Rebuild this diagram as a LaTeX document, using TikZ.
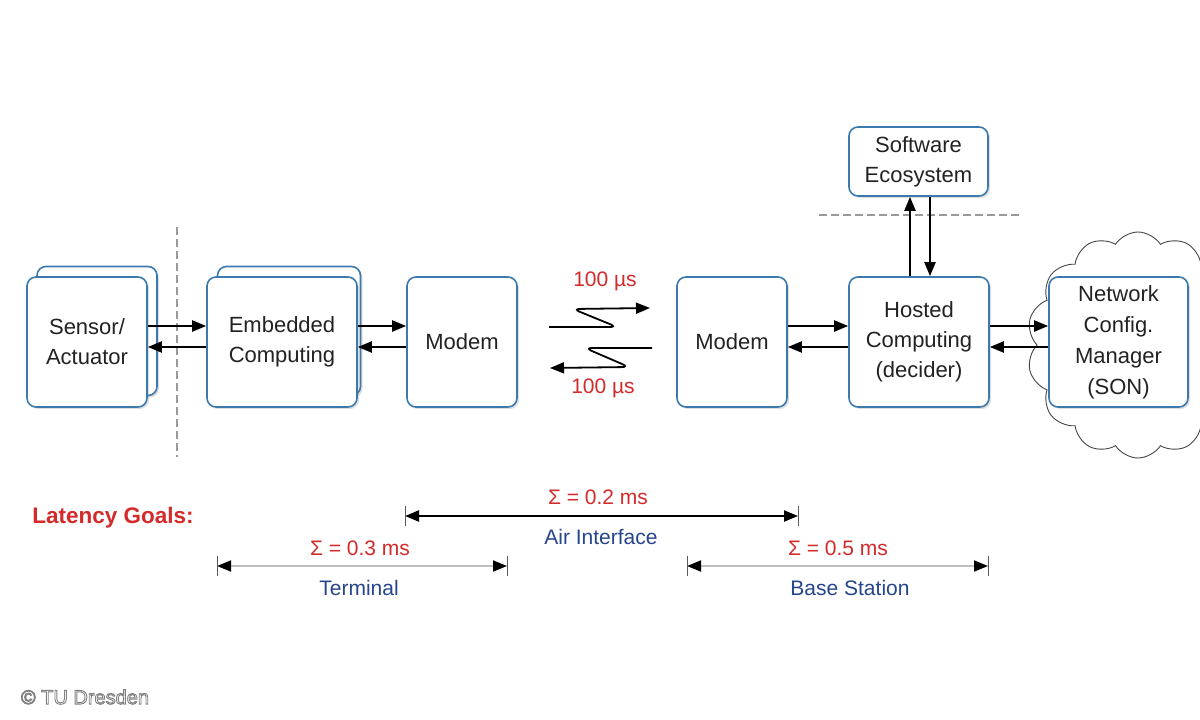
\documentclass[tikz,border=0pt]{standalone}
\usepackage{fontspec}
\setmainfont{Liberation Sans}
\usetikzlibrary{arrows.meta,shapes.symbols,shadows}
\definecolor{boxblue}{HTML}{3C7AAE}
\definecolor{txt}{HTML}{222222}
\definecolor{lred}{HTML}{D42A2A}
\definecolor{lblue}{HTML}{26458C}
\begin{document}
\begin{tikzpicture}[x=1pt,y=-1pt,
  box/.style={draw=boxblue, line width=1.6pt, fill=white, rounded corners=9pt, align=center, text=txt,
    font=\fontsize{22}{30}\selectfont, inner sep=0pt,
    drop shadow={shadow xshift=2pt,shadow yshift=-2pt,opacity=0.25,fill=gray}},
  arr/.style={-{Triangle[length=14pt,width=11pt]}, line width=2pt, black},
  sep/.style={draw=gray!60!black, line width=2.4pt, dash pattern=on 8pt off 4pt},
  dimblack/.style={{Triangle[length=14pt,width=11pt]}-{Triangle[length=14pt,width=11pt]}, line width=2.2pt, black},
  dimgray/.style={{Triangle[length=14pt,width=11pt,color=black]}-{Triangle[length=14pt,width=11pt,color=black]}, line width=1.8pt, gray!50},
  tickline/.style={line width=1pt, gray!70!black},
  redlbl/.style={text=lred, font=\fontsize{21}{25}\selectfont},
  bluelbl/.style={text=lblue, font=\fontsize{21}{25}\selectfont},
]
\useasboundingbox[fill=white] (0,0) rectangle (1200,720);

% separators
\coordinate (v1) at (177,227); \coordinate (v2) at (177,457);
\draw[sep, draw=gray!80] (v1) -- (v2);
\coordinate (h1) at (819,215); \coordinate (h2) at (1019,215);
\draw[sep, draw=gray!80] (h1) -- (h2);

% cloud
\node[cloud, cloud puffs=14, cloud puff arc=115, aspect=0.9, draw=gray!55!black, line width=0.9pt,
      minimum width=222pt, minimum height=226pt, fill=white] (cloud) at (1138,345) {};

% boxes
\node[box, minimum width=120pt, minimum height=129pt] (sensback) at (97,331) {};
\node[box, minimum width=120pt, minimum height=130pt] (sens) at (87,342) {Sensor/\\Actuator};
\node[box, minimum width=143pt, minimum height=129pt] (embback) at (289,331) {};
\node[box, minimum width=150pt, minimum height=130pt] (emb) at (282,342) {Embedded\\Computing};
\node[box, minimum width=110pt, minimum height=130pt] (mod1) at (462,342) {Modem};
\node[box, minimum width=110pt, minimum height=130pt] (mod2) at (732,342) {Modem};
\node[box, minimum width=140pt, minimum height=130pt] (host) at (919,342) {Hosted\\Computing\\(decider)};
\node[box, minimum width=139pt, minimum height=69pt] (soft) at (918.5,161.5) {Software\\Ecosystem};
\node[box, minimum width=139pt, minimum height=130pt, font=\fontsize{22}{31}\selectfont] (net) at (1118.5,342) {Network\\Config.\\Manager\\(SON)};

% horizontal connectors
\draw[arr] ([yshift=16pt]sens.east) -- ([yshift=16pt]emb.west);
\draw[arr] ([yshift=-5pt]emb.west) -- ([yshift=-5pt]sens.east);
\draw[arr] ([yshift=16pt]emb.east) -- ([yshift=16pt]mod1.west);
\draw[arr] ([yshift=-5pt]mod1.west) -- ([yshift=-5pt]emb.east);
\draw[arr] ([yshift=16pt]mod2.east) -- ([yshift=16pt]host.west);
\draw[arr] ([yshift=-5pt]host.west) -- ([yshift=-5pt]mod2.east);
\draw[arr] ([yshift=16pt]host.east) -- ([yshift=16pt]net.west);
\draw[arr] ([yshift=-5pt]net.west) -- ([yshift=-5pt]host.east);
% vertical connectors
\draw[arr] ([xshift=-9pt]host.north) -- ([xshift=-8.5pt]soft.south);
\draw[arr] ([xshift=11.5pt]soft.south) -- ([xshift=11pt]host.north);

% wireless links
\coordinate (w1a) at (549,327); \coordinate (w1b) at (617,327);
\coordinate (w1c) at (573,309); \coordinate (w1d) at (650,308);
\draw[arr, line width=1.8pt, rounded corners=7pt] (w1a) -- (w1b) -- (w1c) -- (w1d);
\coordinate (w2a) at (652,348); \coordinate (w2b) at (585,348);
\coordinate (w2c) at (629,367); \coordinate (w2d) at (550,368);
\draw[arr, line width=1.8pt, rounded corners=7pt] (w2a) -- (w2b) -- (w2c) -- (w2d);
\node[redlbl] (us1) at (605,281) {100 µs};
\node[redlbl] (us2) at (603,388) {100 µs};

% latency goals
\node[text=lred, font=\bfseries\fontsize{22.5}{26}\selectfont] (goals) at (113,518) {Latency Goals:};

\coordinate (a1) at (405,516); \coordinate (a2) at (798,516);
\draw[dimblack] (a1) -- (a2);
\draw[tickline] ([yshift=10pt]a1) -- ([yshift=-10pt]a1);
\draw[tickline] ([yshift=10pt]a2) -- ([yshift=-10pt]a2);
\node[redlbl] (sa) at (598,497) {Σ = 0.2 ms};
\node[bluelbl] (la) at (601,537) {Air Interface};

\coordinate (t1) at (217,566); \coordinate (t2) at (507,566);
\draw[dimgray] (t1) -- (t2);
\draw[tickline] ([yshift=10pt]t1) -- ([yshift=-10pt]t1);
\draw[tickline] ([yshift=10pt]t2) -- ([yshift=-10pt]t2);
\node[redlbl] (st) at (360,548) {Σ = 0.3 ms};
\node[bluelbl] (lt) at (359,588) {Terminal};

\coordinate (b1) at (687,566); \coordinate (b2) at (988,566);
\draw[dimgray] (b1) -- (b2);
\draw[tickline] ([yshift=10pt]b1) -- ([yshift=-10pt]b1);
\draw[tickline] ([yshift=10pt]b2) -- ([yshift=-10pt]b2);
\node[redlbl] (sb) at (838,548) {Σ = 0.5 ms};
\node[bluelbl] (lb) at (850,588) {Base Station};

% copyright: white text with grey outline
\node[text=white, font=\fontsize{20}{24}\selectfont] (copy) at (85,697)
  {\special{pdf:code q 0.5 G 0.9 w 2 Tr}© TU Dresden\special{pdf:code Q}};
\end{tikzpicture}
\end{document}
